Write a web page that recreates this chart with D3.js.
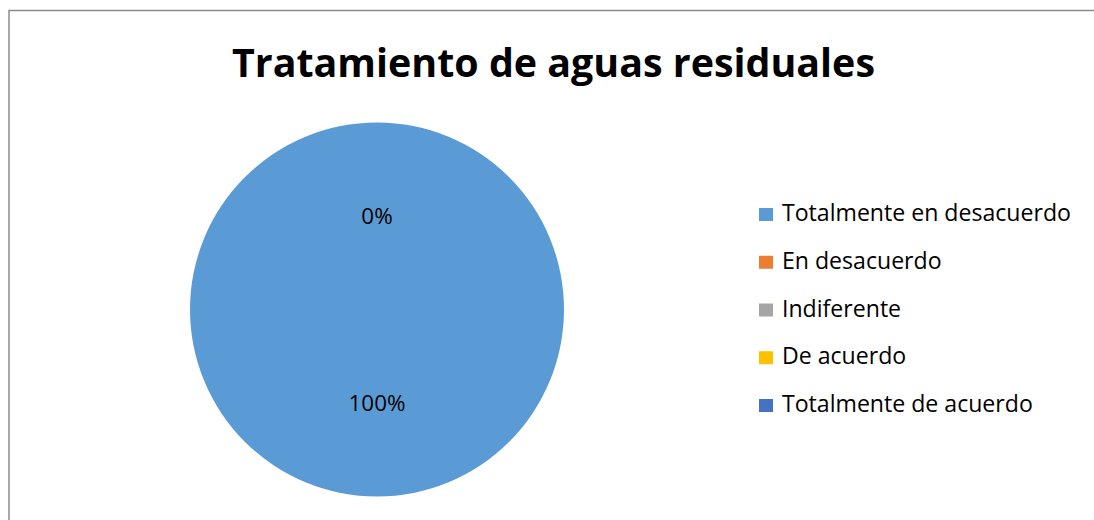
<!DOCTYPE html>
<html>
<head>
<meta charset="utf-8">
<script src="https://cdn.jsdelivr.net/npm/d3@7"></script>
<style>
  html, body { margin: 0; padding: 0; background: #fff; }
  svg { display: block; }
</style>
</head>
<body>
<svg id="chart" width="1094" height="520"></svg>
<script>
const title = "Tratamiento de aguas residuales";
const categories = ["Totalmente en desacuerdo", "En desacuerdo", "Indiferente", "De acuerdo", "Totalmente de acuerdo"];
const values = [100, 0, 0, 0, 0];
const colors = ["#5B9BD5", "#ED7D31", "#A5A5A5", "#FFC000", "#4472C4"];

const svg = d3.select("#chart");
const FONT = "'Open Sans', 'Liberation Sans', sans-serif";

// chart border (extends past the bottom/right of the view)
svg.append("rect")
  .attr("x", 9).attr("y", 10.5)
  .attr("width", 1100).attr("height", 530)
  .attr("fill", "#fff")
  .attr("stroke", "#8c8c8c").attr("stroke-width", 1.5);

// helper to fit text to a target width
function fitText(sel, targetW) {
  const node = sel.node();
  const fs = parseFloat(sel.attr("font-size"));
  const w = node.getComputedTextLength();
  const nfs = fs * targetW / w;
  sel.attr("font-size", nfs.toFixed(2));
  return nfs;
}

// title
const t = svg.append("text")
  .attr("x", 553.5).attr("y", 77)
  .attr("text-anchor", "middle")
  .attr("font-family", FONT)
  .attr("font-weight", "bold")
  .attr("font-size", 40)
  .attr("fill", "#000")
  .text(title);
fitText(t, 643);

// pie
const cx = 377, cy = 309.5, r = 187;
const color = d3.scaleOrdinal().domain(categories).range(colors);
const pie = d3.pie().sort(null).value(d => d.value);
const data = categories.map((c, i) => ({ cat: c, value: values[i] }));
const arcs = pie(data);
const arc = d3.arc().innerRadius(0).outerRadius(r);

const g = svg.append("g").attr("transform", `translate(${cx},${cy})`);
g.selectAll("path.slice")
  .data(arcs)
  .join("path")
  .attr("class", "slice")
  .attr("d", arc)
  .attr("fill", d => color(d.data.cat));

const total = d3.sum(values);
const fmt = v => Math.round(v / total * 100) + "%";
// zero-valued slices all share the same spot, so draw one label per distinct position
const seen = new Set();
const labelArcs = arcs.filter(d => {
  const k = d.startAngle.toFixed(4) + "_" + d.endAngle.toFixed(4);
  if (seen.has(k)) return false;
  seen.add(k);
  return true;
});
const lbls = g.selectAll("text.lbl")
  .data(labelArcs)
  .join("text")
  .attr("class", "lbl")
  .attr("transform", d => {
    const c = arc.centroid(d);
    return `translate(${c[0]},${c[1]})`;
  })
  .attr("text-anchor", "middle")
  .attr("dy", "0.36em")
  .attr("font-family", FONT)
  .attr("font-size", 20)
  .attr("fill", "#000")
  .text(d => fmt(d.data.value));
// scale label font so "100%" matches the reference width
const bigLbl = lbls.filter(d => d.data.value === total);
if (!bigLbl.empty()) {
  const w = bigLbl.node().getComputedTextLength();
  lbls.attr("font-size", (20 * 57 / w).toFixed(2));
}

// legend
const legX = 759, legY0 = 221, legStep = 47.75;
const leg = svg.append("g");
const items = leg.selectAll("g.item")
  .data(categories)
  .join("g")
  .attr("class", "item")
  .attr("transform", (d, i) => `translate(${legX},${legY0 + i * legStep})`);
items.append("rect")
  .attr("x", 0).attr("y", -13)
  .attr("width", 14).attr("height", 13)
  .attr("fill", d => color(d));
const legTexts = items.append("text")
  .attr("x", 23).attr("y", 0)
  .attr("font-family", FONT)
  .attr("font-size", 22)
  .attr("fill", "#000")
  .text(d => d);
const w0 = legTexts.nodes()[0].getComputedTextLength();
legTexts.attr("font-size", (22 * 289 / w0).toFixed(2));
</script>
</body>
</html>
